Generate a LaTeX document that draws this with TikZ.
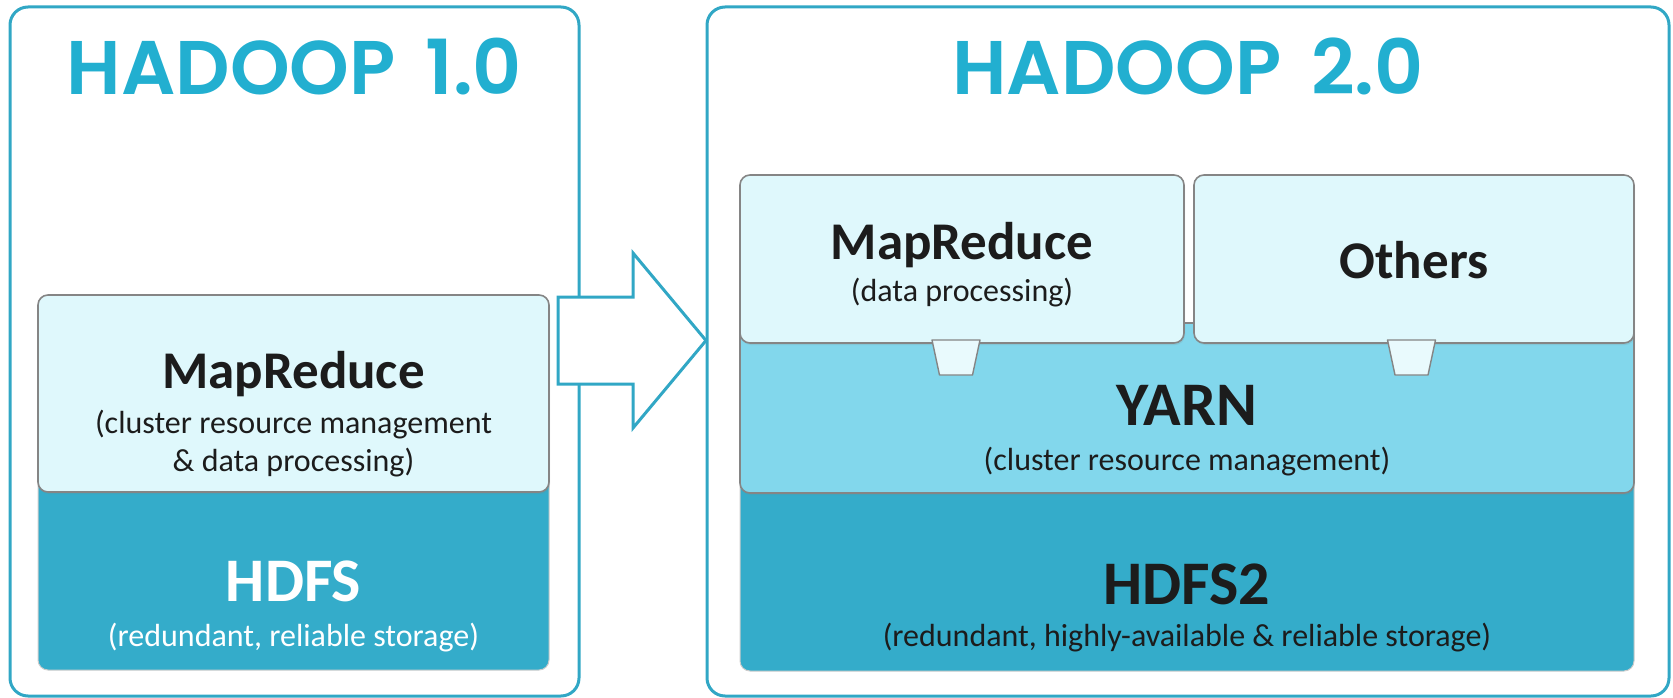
\documentclass[tikz,border=0pt]{standalone}
\usepackage{fontspec}
\setmainfont{Carlito}
\newfontfamily\titlefont{Poppins}[BoldFont={Poppins SemiBold}]
\usetikzlibrary{shadows}
\definecolor{frame}{HTML}{31A7C5}
\definecolor{titlec}{HTML}{22AFD0}
\definecolor{lightc}{HTML}{DFF8FC}
\definecolor{yarnc}{HTML}{82D7EC}
\definecolor{hdfsc}{HTML}{34ACCA}
\definecolor{ink}{HTML}{1C1C1C}
\definecolor{edgec}{HTML}{858585}
\begin{document}
\begin{tikzpicture}[x=1pt,y=-1pt,
  outer/.style={draw=frame, line width=3pt, rounded corners=18pt, inner sep=0pt, outer sep=0pt},
  lightbox/.style={fill=lightc, draw=edgec, line width=1.6pt, rounded corners=10pt, inner sep=0pt, outer sep=0pt,
     drop shadow={opacity=0.18, shadow xshift=1pt, shadow yshift=-2pt}},
  yarnbox/.style={fill=yarnc, draw=edgec, line width=1.6pt, rounded corners=10pt, inner sep=0pt, outer sep=0pt,
     drop shadow={opacity=0.18, shadow xshift=1pt, shadow yshift=-2pt}},
  hdfsbox/.style={fill=hdfsc, draw=black!20, line width=1pt, rounded corners=10pt, inner sep=0pt, outer sep=0pt},
  tabshape/.style={fill=lightc!70!white, draw=edgec, line width=1.4pt, line join=round},
  bigarrow/.style={fill=white, draw=frame, line width=3pt, line join=miter},
  title/.style={font=\titlefont\bfseries\fontsize{76}{76}\selectfont, text=titlec, anchor=base},
  head/.style={font=\bfseries\fontsize{53}{53}\selectfont, text=ink, anchor=base},
  huge/.style={font=\bfseries\fontsize{62}{62}\selectfont, text=ink, anchor=base},
  sub/.style={font=\fontsize{32}{32}\selectfont, text=ink, anchor=base}]
\useasboundingbox (0,0) rectangle (1673,698);
% outer frames
\node[outer, minimum width=569pt, minimum height=689pt] (left) at (294.5,351.5) {};
\node[outer, minimum width=962pt, minimum height=689pt] (right) at (1188,351.5) {};
% titles
\node[title] (t1) at (294.5,95) {HADOOP\hspace{30pt}1.0};
\node[title] (t2) at (1188,95) {HADOOP\hspace{30pt}2.0};
% Hadoop 1 stack
\node[hdfsbox, minimum width=511pt, minimum height=200pt] (hdfs) at (293.5,570) {};
\node[lightbox, minimum width=511pt, minimum height=197pt] (mr1) at (293.5,393.5) {};
\node[head] (mr1t) at (293.5,388) {MapReduce};
\node[sub] (mr1s1) at (293.5,433) {(cluster resource management};
\node[sub] (mr1s2) at (293.5,471) {\& data processing)};
\node[huge, text=white] (hdfst) at (293.5,601) {HDFS};
\node[sub, text=white] (hdfss) at (293.5,646) {(redundant, reliable storage)};
% Hadoop 2 stack
\node[hdfsbox, minimum width=894pt, minimum height=201pt] (hdfs2) at (1187,570.5) {};
\node[yarnbox, minimum width=894pt, minimum height=170pt] (yarn) at (1187,408) {};
\node[lightbox, minimum width=444pt, minimum height=168pt] (mr2) at (962,259) {};
\node[lightbox, minimum width=440pt, minimum height=168pt] (oth) at (1414,259) {};
\draw[tabshape] (932,340) -- (980,340) -- (972.5,375) -- (939.5,375) -- cycle;
\draw[tabshape] (1387.5,340) -- (1435.5,340) -- (1428,375) -- (1395,375) -- cycle;
\node[head] (mr2t) at (962,259) {MapReduce};
\node[sub] (mr2s) at (962,301) {(data processing)};
\node[head] (otht) at (1414,278) {Others};
\node[huge] (yarnt) at (1187,425) {YARN};
\node[sub] (yarns) at (1187,470) {(cluster resource management)};
\node[huge] (hdfs2t) at (1187,604) {HDFS2};
\node[sub] (hdfs2s) at (1187,646) {(redundant, highly-available \& reliable storage)};
% arrow
\draw[bigarrow] (558,297) -- (633,297) -- (633,253) -- (706,340.5) -- (633,428) -- (633,384) -- (558,384) -- cycle;
\end{tikzpicture}
\end{document}
